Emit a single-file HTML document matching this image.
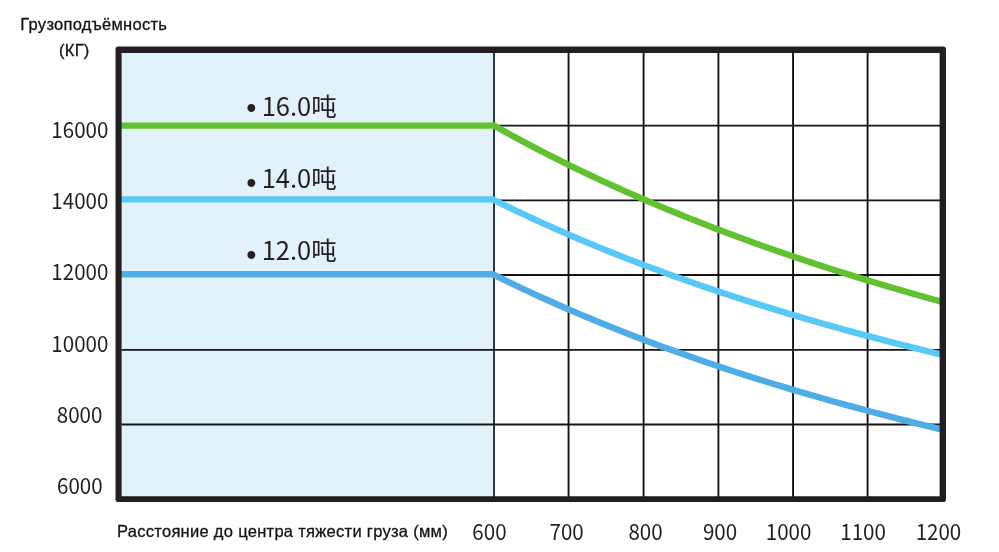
<!DOCTYPE html>
<html><head><meta charset="utf-8"><style>
html,body{margin:0;padding:0;background:#fff;width:999px;height:552px;overflow:hidden}
svg{display:block}
.ru{font-family:"Liberation Sans",Arial,sans-serif;font-size:16.5px;fill:#141216;stroke:#141216;stroke-width:0.3px}
.lab{font-family:"Noto Sans CJK SC",sans-serif;font-size:21.8px;fill:#231f20}
.leg{font-family:"Noto Sans CJK SC",sans-serif;font-size:25.5px;fill:#231f20}
.ru{letter-spacing:0.29px}
.bul{font-family:"Liberation Sans",sans-serif;font-size:29px;fill:#231f20}
</style></head><body>
<svg width="999" height="552" viewBox="0 0 999 552">
<rect x="118.5" y="49.75" width="824.25" height="449.5" fill="#fff"/>
<rect x="118.5" y="49.75" width="375" height="449.5" fill="#e1f2fa"/>
<line x1="494" y1="50" x2="494" y2="499" stroke="#2a2d30" stroke-width="1.9"/><line x1="568.55" y1="50" x2="568.55" y2="499" stroke="#141414" stroke-width="1.9"/><line x1="643.6" y1="50" x2="643.6" y2="499" stroke="#141414" stroke-width="1.9"/><line x1="718.4" y1="50" x2="718.4" y2="499" stroke="#141414" stroke-width="1.9"/><line x1="793.05" y1="50" x2="793.05" y2="499" stroke="#141414" stroke-width="1.9"/><line x1="867.6" y1="50" x2="867.6" y2="499" stroke="#141414" stroke-width="1.9"/><line x1="121.6" y1="125.6" x2="942" y2="125.6" stroke="#141414" stroke-width="1.9"/><line x1="121.6" y1="200.4" x2="942" y2="200.4" stroke="#141414" stroke-width="1.9"/><line x1="121.6" y1="275.0" x2="942" y2="275.0" stroke="#141414" stroke-width="1.9"/><line x1="121.6" y1="349.9" x2="942" y2="349.9" stroke="#141414" stroke-width="1.9"/><line x1="121.6" y1="424.5" x2="942" y2="424.5" stroke="#141414" stroke-width="1.9"/>
<path d="M121.00,125.60 L493.00,125.60 L494.00,125.58 L499.66,128.76 L505.32,131.90 L510.97,135.01 L516.63,138.08 L522.29,141.13 L527.95,144.14 L533.61,147.11 L539.27,150.06 L544.92,152.98 L550.58,155.86 L556.24,158.72 L561.90,161.54 L567.56,164.34 L573.22,167.11 L578.87,169.85 L584.53,172.56 L590.19,175.25 L595.85,177.91 L601.51,180.54 L607.16,183.15 L612.82,185.73 L618.48,188.28 L624.14,190.81 L629.80,193.32 L635.46,195.80 L641.11,198.26 L646.77,200.69 L652.43,203.11 L658.09,205.49 L663.75,207.86 L669.41,210.20 L675.06,212.53 L680.72,214.83 L686.38,217.10 L692.04,219.36 L697.70,221.60 L703.35,223.82 L709.01,226.01 L714.67,228.19 L720.33,230.35 L725.99,232.48 L731.65,234.60 L737.30,236.70 L742.96,238.79 L748.62,240.85 L754.28,242.89 L759.94,244.92 L765.59,246.93 L771.25,248.92 L776.91,250.90 L782.57,252.86 L788.23,254.80 L793.89,256.72 L799.54,258.63 L805.20,260.52 L810.86,262.40 L816.52,264.26 L822.18,266.10 L827.84,267.93 L833.49,269.75 L839.15,271.55 L844.81,273.34 L850.47,275.11 L856.13,276.86 L861.78,278.60 L867.44,280.33 L873.10,282.05 L878.76,283.75 L884.42,285.43 L890.08,287.11 L895.73,288.77 L901.39,290.41 L907.05,292.05 L912.71,293.67 L918.37,295.28 L924.03,296.88 L929.68,298.46 L935.34,300.03 L941.00,301.59" fill="none" stroke="#62c130" stroke-width="6.4" stroke-linejoin="round"/>
<path d="M121.00,199.35 L493.00,199.35 L494.00,200.00 L499.66,202.80 L505.32,205.57 L510.97,208.31 L516.63,211.02 L522.29,213.71 L527.95,216.36 L533.61,218.98 L539.27,221.58 L544.92,224.15 L550.58,226.69 L556.24,229.20 L561.90,231.69 L567.56,234.16 L573.22,236.59 L578.87,239.00 L584.53,241.39 L590.19,243.75 L595.85,246.09 L601.51,248.41 L607.16,250.70 L612.82,252.97 L618.48,255.22 L624.14,257.44 L629.80,259.64 L635.46,261.82 L641.11,263.98 L646.77,266.12 L652.43,268.24 L658.09,270.34 L663.75,272.41 L669.41,274.47 L675.06,276.51 L680.72,278.53 L686.38,280.53 L692.04,282.51 L697.70,284.47 L703.35,286.42 L709.01,288.35 L714.67,290.26 L720.33,292.15 L725.99,294.02 L731.65,295.88 L737.30,297.72 L742.96,299.54 L748.62,301.35 L754.28,303.14 L759.94,304.92 L765.59,306.68 L771.25,308.43 L776.91,310.16 L782.57,311.87 L788.23,313.57 L793.89,315.26 L799.54,316.93 L805.20,318.58 L810.86,320.23 L816.52,321.86 L822.18,323.47 L827.84,325.07 L833.49,326.66 L839.15,328.23 L844.81,329.80 L850.47,331.34 L856.13,332.88 L861.78,334.40 L867.44,335.92 L873.10,337.41 L878.76,338.90 L884.42,340.38 L890.08,341.84 L895.73,343.29 L901.39,344.73 L907.05,346.16 L912.71,347.57 L918.37,348.98 L924.03,350.37 L929.68,351.76 L935.34,353.13 L941.00,354.49" fill="none" stroke="#58c8f4" stroke-width="6.4" stroke-linejoin="round"/>
<path d="M121.00,274.30 L493.00,274.30 L494.00,274.82 L499.66,277.63 L505.32,280.40 L510.97,283.14 L516.63,285.85 L522.29,288.53 L527.95,291.18 L533.61,293.81 L539.27,296.40 L544.92,298.97 L550.58,301.51 L556.24,304.03 L561.90,306.51 L567.56,308.98 L573.22,311.41 L578.87,313.83 L584.53,316.21 L590.19,318.57 L595.85,320.91 L601.51,323.23 L607.16,325.52 L612.82,327.79 L618.48,330.03 L624.14,332.26 L629.80,334.46 L635.46,336.64 L641.11,338.80 L646.77,340.94 L652.43,343.06 L658.09,345.15 L663.75,347.23 L669.41,349.29 L675.06,351.33 L680.72,353.35 L686.38,355.35 L692.04,357.33 L697.70,359.29 L703.35,361.23 L709.01,363.16 L714.67,365.07 L720.33,366.96 L725.99,368.84 L731.65,370.69 L737.30,372.53 L742.96,374.36 L748.62,376.17 L754.28,377.96 L759.94,379.73 L765.59,381.49 L771.25,383.24 L776.91,384.97 L782.57,386.68 L788.23,388.38 L793.89,390.07 L799.54,391.74 L805.20,393.39 L810.86,395.04 L816.52,396.67 L822.18,398.28 L827.84,399.88 L833.49,401.47 L839.15,403.04 L844.81,404.60 L850.47,406.15 L856.13,407.69 L861.78,409.21 L867.44,410.72 L873.10,412.22 L878.76,413.71 L884.42,415.18 L890.08,416.64 L895.73,418.10 L901.39,419.53 L907.05,420.96 L912.71,422.38 L918.37,423.78 L924.03,425.18 L929.68,426.56 L935.34,427.94 L941.00,429.30" fill="none" stroke="#4eade5" stroke-width="6.4" stroke-linejoin="round"/>
<path fill="#231f20" fill-rule="evenodd" d="M118.3,46.5 H943.2 Q946,46.5 946,49.3 V499.3 Q946,502.1 943.2,502.1 H118.3 Q115.5,502.1 115.5,499.3 V49.3 Q115.5,46.5 118.3,46.5 Z M121.6,52.9 V496.2 H939.6 V52.9 Z"/>
<text class="ru" transform="translate(20.26 29.79) scale(1.0 1)">Грузоподъёмность</text>
<text class="ru" transform="translate(58.96 55.64) scale(1.0 1)">(КГ)</text>
<text class="ru xt" transform="translate(116.97 536.83) scale(1.0 1)">Расстояние до центра тяжести груза (мм)</text>
<text class="lab" text-anchor="middle" transform="translate(79.86 137.97) scale(0.943 1)">16000</text>
<text class="lab" text-anchor="middle" transform="translate(79.86 208.87) scale(0.943 1)">14000</text>
<text class="lab" text-anchor="middle" transform="translate(79.86 279.55) scale(0.943 1)">12000</text>
<text class="lab" text-anchor="middle" transform="translate(79.86 351.98) scale(0.943 1)">10000</text>
<text class="lab" text-anchor="middle" transform="translate(79.61 422.75) scale(0.943 1)">8000</text>
<text class="lab" text-anchor="middle" transform="translate(79.85 493.52) scale(0.943 1)">6000</text>
<text class="lab" text-anchor="middle" transform="translate(489.44 539.65) scale(0.943 1)">600</text>
<text class="lab" text-anchor="middle" transform="translate(566.65 539.65) scale(0.943 1)">700</text>
<text class="lab" text-anchor="middle" transform="translate(645.50 539.62) scale(0.943 1)">800</text>
<text class="lab" text-anchor="middle" transform="translate(720.01 539.65) scale(0.943 1)">900</text>
<text class="lab" text-anchor="middle" transform="translate(788.60 539.51) scale(0.943 1)">1000</text>
<text class="lab" text-anchor="middle" transform="translate(863.09 539.53) scale(0.943 1)">1100</text>
<text class="lab" text-anchor="middle" transform="translate(938.45 539.98) scale(0.943 1)">1200</text>
<text class="leg" transform="translate(261.70 115.60) scale(1.0 1)">16.0吨</text>
<text class="leg" transform="translate(261.70 187.75) scale(1.0 1)">14.0吨</text>
<text class="leg" transform="translate(261.70 259.75) scale(1.0 1)">12.0吨</text>
<text class="bul" transform="translate(246.28 117.65) scale(1.0 1)">•</text>
<text class="bul" transform="translate(246.28 192.92) scale(1.0 1)">•</text>
<text class="bul" transform="translate(246.28 264.68) scale(1.0 1)">•</text>
</svg>
</body></html>
